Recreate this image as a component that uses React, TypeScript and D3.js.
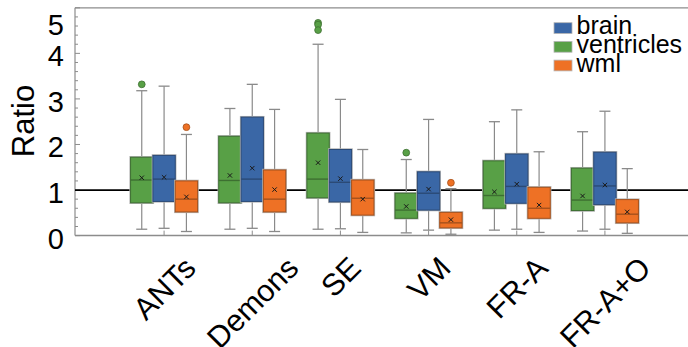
import { useEffect, useRef } from 'react';
import * as d3 from 'd3';

const categories = ['ANTs', 'Demons', 'SE', 'VM', 'FR-A', 'FR-A+O'];
const seriesOrder = ['ventricles', 'brain', 'wml'];
const legendOrder = ['brain', 'ventricles', 'wml'];
const yTicks = [0, 1, 2, 3, 4, 5];

// five-number summaries, per category
const ventriclesLow = [0.14, 0.14, 0.14, 0.06, 0.12, 0.1];
const ventriclesQ1 = [0.72, 0.72, 0.83, 0.38, 0.6, 0.55];
const ventriclesMedian = [1.22, 1.21, 1.24, 0.56, 0.88, 0.78];
const ventriclesQ3 = [1.72, 2.18, 2.25, 0.93, 1.64, 1.48];
const ventriclesHigh = [3.18, 2.79, 4.2, 1.67, 2.5, 2.28];
const ventriclesMean = [1.27, 1.32, 1.6, 0.64, 0.96, 0.87];
const ventriclesOutliers = [[3.32], [], [4.67, 4.63, 4.51], [1.82], [], []];

const brainLow = [0.16, 0.16, 0.15, 0.12, 0.14, 0.14];
const brainQ1 = [0.75, 0.75, 0.74, 0.56, 0.71, 0.68];
const brainMedian = [1.24, 1.24, 1.17, 0.93, 1.08, 1.09];
const brainQ3 = [1.76, 2.6, 1.89, 1.4, 1.79, 1.83];
const brainHigh = [3.28, 3.32, 2.99, 2.55, 2.76, 2.73];
const brainMean = [1.28, 1.48, 1.25, 1.02, 1.13, 1.11];
const brainOutliers = [[], [], [], [], [], []];

const wmlLow = [0.09, 0.09, 0.07, 0.03, 0.07, 0.05];
const wmlQ1 = [0.52, 0.52, 0.45, 0.17, 0.38, 0.28];
const wmlMedian = [0.8, 0.8, 0.82, 0.28, 0.6, 0.47];
const wmlQ3 = [1.2, 1.44, 1.22, 0.51, 1.06, 0.79];
const wmlHigh = [2.22, 2.77, 1.89, 1.03, 1.84, 1.47];
const wmlMean = [0.85, 1.01, 0.8, 0.35, 0.67, 0.52];
const wmlOutliers = [[2.38], [], [], [1.16], [], []];

const colors: Record<string, string> = { brain: '#3a67a6', ventricles: '#58a046', wml: '#ee7125' };
const strokes: Record<string, string> = { brain: '#2b4a76', ventricles: '#3d6f31', wml: '#a5511c' };

const stats: Record<string, any> = {
  ventricles: { lo: ventriclesLow, q1: ventriclesQ1, med: ventriclesMedian, q3: ventriclesQ3, hi: ventriclesHigh, mean: ventriclesMean, out: ventriclesOutliers },
  brain: { lo: brainLow, q1: brainQ1, med: brainMedian, q3: brainQ3, hi: brainHigh, mean: brainMean, out: brainOutliers },
  wml: { lo: wmlLow, q1: wmlQ1, med: wmlMedian, q3: wmlQ3, hi: wmlHigh, mean: wmlMean, out: wmlOutliers },
};

const W = 688;
const H = 347;
const FONT = '"Liberation Sans", Arial, sans-serif';

const BoxChart = () => {
  const ref = useRef<SVGSVGElement>(null);

  useEffect(() => {
    if (!ref.current) return;
    const svg = d3.select(ref.current);
    svg.selectAll('*').remove();

    const left = 75, right = W, top = 7.8, bottom = 235.6;

    const y = d3.scaleLinear().domain([0, 5]).range([bottom, top]);
    const x = d3.scaleBand().domain(categories).range([120, 649]).paddingInner(0.24).paddingOuter(0.12);
    const xs = d3.scaleBand().domain(seriesOrder).range([0, x.bandwidth()]);

    const axisColor = '#8c8c8c';

    // frame
    svg.append('line').attr('x1', left).attr('x2', right).attr('y1', top).attr('y2', top)
      .attr('stroke', axisColor).attr('stroke-width', 1.2);
    svg.append('line').attr('x1', left).attr('x2', left).attr('y1', top).attr('y2', bottom)
      .attr('stroke', axisColor).attr('stroke-width', 1.2);
    svg.append('line').attr('x1', left).attr('x2', right).attr('y1', bottom).attr('y2', bottom)
      .attr('stroke', axisColor).attr('stroke-width', 1.5);

    // y ticks (inward), minor every 0.2
    const minor = d3.range(0, 5.001, 0.2);
    svg.append('g').selectAll('line').data(minor).join('line')
      .attr('x1', left).attr('x2', d => (Math.abs(d - Math.round(d)) < 1e-6 ? left + 5 : left + 3))
      .attr('y1', d => y(d)).attr('y2', d => y(d))
      .attr('stroke', axisColor).attr('stroke-width', 1);

    svg.append('g').selectAll('text').data(yTicks).join('text')
      .attr('x', 64)
      .attr('y', d => Math.max(y(d) + 3, 25))
      .attr('text-anchor', 'end')
      .attr('dominant-baseline', 'central')
      .attr('font-family', FONT).attr('font-size', 29).attr('fill', '#000')
      .text(d => d);

    svg.append('text')
      .attr('transform', 'translate(34,121) rotate(-90)')
      .attr('text-anchor', 'middle')
      .attr('font-family', FONT).attr('font-size', 31).attr('fill', '#000')
      .text('Ratio');

    // x ticks (inward)
    svg.append('g').selectAll('line').data(categories).join('line')
      .attr('x1', d => x(d)! + x.bandwidth() / 2).attr('x2', d => x(d)! + x.bandwidth() / 2)
      .attr('y1', bottom).attr('y2', bottom - 5)
      .attr('stroke', axisColor).attr('stroke-width', 1);

    // reference line at 1
    svg.append('line').attr('x1', left).attr('x2', right).attr('y1', y(1)).attr('y2', y(1))
      .attr('stroke', '#000').attr('stroke-width', 1.8);

    // boxes
    const capW = 11;
    seriesOrder.forEach(s => {
      const st = stats[s];
      const g = svg.append('g');
      categories.forEach((c, i) => {
        const x0 = x(c)! + xs(s)!;
        const bw = xs.bandwidth();
        const cx = x0 + bw / 2;
        // whiskers
        g.append('line').attr('x1', cx).attr('x2', cx).attr('y1', y(st.hi[i])).attr('y2', y(st.q3[i]))
          .attr('stroke', '#8a8a8a').attr('stroke-width', 1.2);
        g.append('line').attr('x1', cx).attr('x2', cx).attr('y1', y(st.q1[i])).attr('y2', y(st.lo[i]))
          .attr('stroke', '#8a8a8a').attr('stroke-width', 1.2);
        [st.hi[i], st.lo[i]].forEach((v: number) => {
          g.append('line').attr('x1', cx - capW / 2).attr('x2', cx + capW / 2).attr('y1', y(v)).attr('y2', y(v))
            .attr('stroke', '#8a8a8a').attr('stroke-width', 1.3);
        });
        // box with light halo
        g.append('rect').attr('x', x0).attr('y', y(st.q3[i])).attr('width', bw)
          .attr('height', y(st.q1[i]) - y(st.q3[i]))
          .attr('fill', 'none').attr('stroke', '#b5b5b5').attr('stroke-width', 2.4);
        g.append('rect').attr('x', x0).attr('y', y(st.q3[i])).attr('width', bw)
          .attr('height', y(st.q1[i]) - y(st.q3[i]))
          .attr('fill', colors[s]).attr('stroke', strokes[s]).attr('stroke-width', 1);
        g.append('line').attr('x1', x0).attr('x2', x0 + bw).attr('y1', y(st.med[i])).attr('y2', y(st.med[i]))
          .attr('stroke', strokes[s]).attr('stroke-width', 1.4);
        // mean marker
        const my = y(st.mean[i]);
        g.append('path')
          .attr('d', `M${cx - 2.2},${my - 2.2}L${cx + 2.2},${my + 2.2}M${cx - 2.2},${my + 2.2}L${cx + 2.2},${my - 2.2}`)
          .attr('stroke', '#1a1a1a').attr('stroke-width', 1);
        // outliers
        st.out[i].forEach((v: number) => {
          g.append('circle').attr('cx', cx).attr('cy', y(v)).attr('r', 3.4)
            .attr('fill', colors[s]).attr('stroke', strokes[s]).attr('stroke-width', 0.8);
        });
      });
    });

    // category labels: rotated 45deg, centered on tick, tops aligned
    const labelTop = 254;
    const fs = 30.5;
    categories.forEach(c => {
      const cx = x(c)! + x.bandwidth() / 2;
      const t = svg.append('text')
        .attr('text-anchor', 'middle')
        .attr('dominant-baseline', 'central')
        .attr('font-family', FONT).attr('font-size', fs).attr('fill', '#000')
        .text(c);
      const len = (t.node() as SVGTextElement).getComputedTextLength();
      const hgt = (len + fs * 0.75) / Math.SQRT2;
      const cy = labelTop + hgt / 2;
      t.attr('x', cx).attr('y', cy).attr('transform', `rotate(-45,${cx},${cy})`);
    });

    // legend
    const lg = svg.append('g').attr('transform', 'translate(554,22.7)');
    legendOrder.forEach((s, i) => {
      lg.append('rect').attr('x', 0).attr('y', i * 18.7).attr('width', 18).attr('height', 10.8)
        .attr('fill', colors[s]).attr('stroke', '#b5b5b5').attr('stroke-width', 0.8);
      lg.append('text').attr('x', 22.5).attr('y', i * 18.7 + 11.6)
        .attr('font-family', FONT).attr('font-size', 25).attr('fill', '#000')
        .text(s);
    });
  }, []);

  return <svg ref={ref} width={W} height={H} style={{ position: 'absolute', left: 0, top: 0, background: '#fff' }} />;
};

export default function App() {
  return <BoxChart />;
}
